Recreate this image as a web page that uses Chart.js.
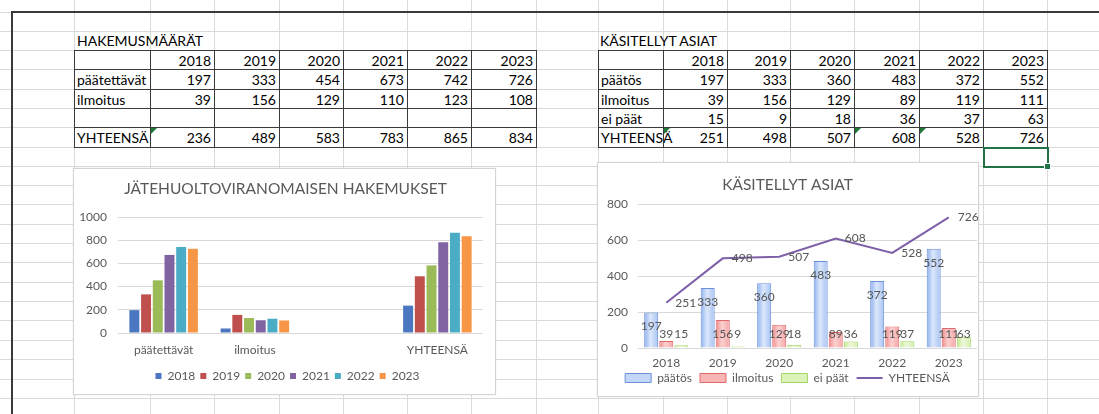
<!DOCTYPE html>
<html>
<head>
<meta charset="utf-8">
<script src="https://cdn.jsdelivr.net/npm/chart.js@4.4.1/dist/chart.umd.min.js"></script>
<style>
html, body { margin: 0; padding: 0; }
body {
    width: 1099px; height: 414px; overflow: hidden; position: relative;
    background: #fff; font-family: Lato, "Open Sans", sans-serif; color: #000;
}
.gl { position: absolute; background: #dadada; }
.frame { position: absolute; background: #3a3a3a; }
.cell {
    position: absolute; box-sizing: border-box; border: 1px solid #3a3a3a;
    font-size: 14px; padding: 1px 3px 0 2px; white-space: nowrap;
}
.num { text-align: right; }
.caption { position: absolute; font-size: 14px; line-height: 16px; }
.tri { position: absolute; width: 0; height: 0; border-top: 6px solid #1f7a3a; border-right: 6px solid transparent; }
.sel { position: absolute; box-sizing: border-box; border: 2px solid #217346; }
.handle { position: absolute; width: 5px; height: 5px; background: #217346; border: 1px solid #fff; }
.card { position: absolute; box-sizing: border-box; background: #fff; border: 1px solid #d4d4d4; box-shadow: 0 0 2px rgba(0, 0, 0, 0.08); }
.card canvas { position: absolute; left: 0; top: 0; }
</style>
</head>
<body>

<div class="card" style="left:73px; top:168px; width:423px; height:227px;">
    <canvas id="appChart" width="421" height="225"></canvas>
</div>
<div class="card" style="left:597px; top:162px; width:382px; height:235px;">
    <canvas id="caseChart" width="380" height="233"></canvas>
</div>

<script>
// ===============================
// DATA
// ===============================

const years = ["2018", "2019", "2020", "2021", "2022", "2023"];

// HAKEMUSMÄÄRÄT
const appTitle = "HAKEMUSMÄÄRÄT";
const appLabels = ["päätettävät", "ilmoitus", "", "YHTEENSÄ"];
const appDecided = [197, 333, 454, 673, 742, 726];
const appNotice = [39, 156, 129, 110, 123, 108];
const appTotal = [236, 489, 583, 783, 865, 834];
const appTicks = [0, 200, 400, 600, 800, 1000];

// KÄSITELLYT ASIAT
const caseTitle = "KÄSITELLYT ASIAT";
const caseLabels = ["päätös", "ilmoitus", "ei päät", "YHTEENSÄ"];
const caseDecision = [197, 333, 360, 483, 372, 552];
const caseNotice = [39, 156, 129, 89, 119, 111];
const caseNoDecision = [15, 9, 18, 36, 37, 63];
const caseTotal = [251, 498, 507, 608, 528, 726];
const caseTicks = [0, 200, 400, 600, 800];

const yearColors = ["#4a77c0", "#c0504d", "#9bbb59", "#8064a2", "#4bacc6", "#f79646"];
const FONT = "Lato, 'Open Sans', sans-serif";
const GRAY = "#595959";


// ===============================
// SHEET: GRID, TABLES
// ===============================

const sheetCols = [74, 150, 214, 279, 343, 407, 471, 536, 598, 663, 727, 790, 854, 919, 983, 1047];
const sheetRows = [12, 31, 50, 69, 89, 108, 127, 147, 166, 185, 204, 224, 243, 262, 282, 301, 320, 340, 359, 379, 398];
const tableRows = [50, 69, 89, 108, 127, 147];

// everything here goes under the chart cards
const layers = [];

function box(cls, style, text) {
    const d = document.createElement("div");
    d.className = cls;
    Object.keys(style).forEach(function (k) {
        d.style[k] = typeof style[k] === "number" ? style[k] + "px" : style[k];
    });
    if (text !== undefined) {
        d.textContent = text;
    }
    layers.push(d);
    return d;
}

function drawTable(cols, rows, cells) {
    cells.forEach(function (row, j) {
        row.forEach(function (txt, i) {
            box(i > 0 ? "cell num" : "cell", {
                left: cols[i],
                top: rows[j],
                width: cols[i + 1] - cols[i] + 1,
                height: rows[j + 1] - rows[j] + 1,
                lineHeight: rows[j + 1] - rows[j] - 2
            }, txt);
        });
    });
}

// grid lines
sheetCols.forEach(function (x) {
    box("gl", { left: x, top: 0, width: 1, height: 414 });
});
sheetRows.forEach(function (y) {
    box("gl", { left: 0, top: y, width: 1099, height: 1 });
});

// frame
box("frame", { left: 11, top: 11, width: 1088, height: 2 });
box("frame", { left: 11, top: 11, width: 2, height: 403 });

drawTable(
    [74, 150, 214, 279, 343, 407, 471, 536],
    tableRows,
    [
        [""].concat(years),
        [appLabels[0]].concat(appDecided.map(String)),
        [appLabels[1]].concat(appNotice.map(String)),
        [""].concat(years.map(function () { return ""; })),
        [appLabels[3]].concat(appTotal.map(String))
    ]
);

drawTable(
    [598, 663, 727, 790, 854, 919, 983, 1047],
    tableRows,
    [
        [""].concat(years),
        [caseLabels[0]].concat(caseDecision.map(String)),
        [caseLabels[1]].concat(caseNotice.map(String)),
        [caseLabels[2]].concat(caseNoDecision.map(String)),
        [caseLabels[3]].concat(caseTotal.map(String))
    ]
);

box("caption", { left: 77, top: 33 }, appTitle);
box("caption", { left: 600, top: 33 }, caseTitle);

// error markers (green corners)
[[151, 128], [664, 128], [855, 128], [920, 128]].forEach(function (p) {
    box("tri", { left: p[0], top: p[1] });
});

// selected cell
box("sel", { left: 983, top: 147, width: 66, height: 21 });
box("handle", { left: 1044, top: 163 });

const firstCard = document.querySelector(".card");
layers.forEach(function (el) {
    document.body.insertBefore(el, firstCard);
});


// ===============================
// SHARED PLUGINS
// ===============================

Chart.defaults.font.family = FONT;
Chart.defaults.color = GRAY;

// moves title / legend after layout (Excel puts them a bit off the chart centre)
const nudge = {
    id: "nudge",
    afterLayout: function (chart, args, opts) {
        const lg = chart.legend;
        const tb = chart.titleBlock;
        if (lg && opts.legendDx) {
            lg.left += opts.legendDx;
            lg.right += opts.legendDx;
        }
        if (lg && opts.legendDy) {
            lg.top += opts.legendDy;
            lg.bottom += opts.legendDy;
        }
        if (tb && opts.titleDx) {
            tb.left += opts.titleDx;
            tb.right += opts.titleDx;
        }
    }
};

function plainTick(value) {
    return String(value);
}


// ===============================
// CHART 1: JÄTEHUOLTOVIRANOMAISEN HAKEMUKSET
// ===============================

new Chart(document.getElementById("appChart"), {
    type: "bar",
    data: {
        labels: appLabels,
        datasets: years.map(function (y, i) {
            return {
                label: y,
                data: [appDecided[i], appNotice[i], null, appTotal[i]],
                backgroundColor: yearColors[i],
                categoryPercentage: 0.77,
                barPercentage: 0.85
            };
        })
    },
    options: {
        responsive: false,
        animation: false,
        layout: {
            padding: { left: 0, right: 12, top: 0, bottom: 2 }
        },
        plugins: {
            nudge: { legendDx: 9, titleDx: 7 },
            title: {
                display: true,
                text: "JÄTEHUOLTOVIRANOMAISEN HAKEMUKSET",
                color: GRAY,
                font: { size: 15.5, weight: "normal" },
                padding: { top: 10.7, bottom: 18.7 }
            },
            legend: {
                position: "bottom",
                labels: {
                    boxWidth: 6,
                    boxHeight: 6,
                    padding: 5,
                    color: GRAY,
                    font: { size: 12 }
                }
            },
            tooltip: { enabled: false }
        },
        scales: {
            x: {
                grid: { display: false, drawTicks: false },
                border: { display: false },
                ticks: { padding: 10, font: { size: 12 }, color: GRAY },
                afterFit: function (s) { s.height = 32; }
            },
            y: {
                min: appTicks[0],
                max: appTicks[appTicks.length - 1],
                afterBuildTicks: function (s) {
                    s.ticks = appTicks.map(function (v) { return { value: v }; });
                },
                ticks: { padding: 11, font: { size: 12 }, color: GRAY, callback: plainTick },
                grid: { color: "#d9d9d9", drawTicks: false },
                border: { display: false },
                afterFit: function (s) { s.width = 44; }
            }
        }
    },
    plugins: [nudge]
});


// ===============================
// CHART 2: KÄSITELLYT ASIAT
// ===============================

const caseCatPct = 0.8;
const caseBarPct = 0.93;

// light gradient across each bar, like the Excel style
function barFill(stops) {
    return function (c) {
        const chart = c.chart;
        const xs = chart.scales.x;
        if (c.type !== "data" || !xs || !chart.chartArea) {
            return stops[1];
        }
        const catW = xs.width / chart.data.labels.length;
        const groupW = catW * caseCatPct;
        const slot = groupW / 3;
        const barW = slot * caseBarPct;
        const cx = xs.getPixelForValue(c.dataIndex) - groupW / 2 + slot * (c.datasetIndex + 0.5);
        const g = chart.ctx.createLinearGradient(cx - barW / 2, 0, cx + barW / 2, 0);
        g.addColorStop(0, stops[0]);
        g.addColorStop(0.45, stops[1]);
        g.addColorStop(1, stops[2]);
        return g;
    };
}

const dataLabels = {
    id: "dataLabels",
    afterDatasetsDraw: function (chart) {
        const ctx = chart.ctx;
        ctx.save();
        ctx.font = "12px " + FONT;
        ctx.fillStyle = "#555555";
        ctx.textBaseline = "middle";
        chart.data.datasets.forEach(function (ds, di) {
            const meta = chart.getDatasetMeta(di);
            meta.data.forEach(function (el, i) {
                const v = String(ds.data[i]);
                if (ds.labelAt === "right") {
                    ctx.textAlign = "left";
                    ctx.fillText(v, el.x + 9, el.y);
                } else if (ds.labelAt === "end") {
                    ctx.textAlign = "center";
                    ctx.fillText(v, el.x, el.y + 14);
                } else {
                    ctx.textAlign = "center";
                    ctx.fillText(v, el.x, el.base - 13);
                }
            });
        });
        ctx.restore();
    }
};

new Chart(document.getElementById("caseChart"), {
    type: "bar",
    data: {
        labels: years,
        datasets: [
            {
                label: caseLabels[0],
                data: caseDecision,
                backgroundColor: barFill(["#8eb0ec", "#dbe7fb", "#a9c3f2"]),
                legendFill: "#c4d7f7",
                borderColor: "#6a8fdb",
                borderWidth: 1,
                pointStyle: "rect",
                labelAt: "end",
                order: 1,
                categoryPercentage: caseCatPct,
                barPercentage: caseBarPct
            },
            {
                label: caseLabels[1],
                data: caseNotice,
                backgroundColor: barFill(["#f08c8c", "#fbd0d0", "#f4a6a6"]),
                legendFill: "#f7b5b5",
                borderColor: "#e06a6a",
                borderWidth: 1,
                pointStyle: "rect",
                labelAt: "base",
                order: 1,
                categoryPercentage: caseCatPct,
                barPercentage: caseBarPct
            },
            {
                label: caseLabels[2],
                data: caseNoDecision,
                backgroundColor: barFill(["#c3e88e", "#eef9dc", "#d2efa8"]),
                legendFill: "#dcf3ba",
                borderColor: "#a3d466",
                borderWidth: 1,
                pointStyle: "rect",
                labelAt: "base",
                order: 1,
                categoryPercentage: caseCatPct,
                barPercentage: caseBarPct
            },
            {
                type: "line",
                label: caseLabels[3],
                data: caseTotal,
                borderColor: "#7e60a8",
                backgroundColor: "#7e60a8",
                borderWidth: 2,
                pointRadius: 0,
                tension: 0,
                pointStyle: "line",
                labelAt: "right",
                order: 0
            }
        ]
    },
    options: {
        responsive: false,
        animation: false,
        layout: {
            padding: { left: 0, right: 1, top: 0, bottom: 2 }
        },
        plugins: {
            nudge: { legendDy: -6 },
            title: {
                display: true,
                text: caseTitle,
                color: GRAY,
                font: { size: 15.5, weight: "normal" },
                padding: { top: 12.7, bottom: 9.7 }
            },
            legend: {
                position: "bottom",
                maxHeight: 24,
                labels: {
                    usePointStyle: true,
                    pointStyleWidth: 26,
                    boxHeight: 9,
                    padding: 8,
                    color: GRAY,
                    font: { size: 12 },
                    generateLabels: function (chart) {
                        const items = Chart.defaults.plugins.legend.labels.generateLabels(chart);
                        items.forEach(function (it) {
                            const ds = chart.data.datasets[it.datasetIndex];
                            if (ds.legendFill) {
                                it.fillStyle = ds.legendFill;
                            }
                        });
                        return items.sort(function (a, b) { return a.datasetIndex - b.datasetIndex; });
                    }
                }
            },
            tooltip: { enabled: false }
        },
        scales: {
            x: {
                grid: { display: false, drawTicks: false },
                border: { display: false },
                ticks: { padding: 8, font: { size: 12 }, color: GRAY },
                afterFit: function (s) { s.height = 22; }
            },
            y: {
                min: caseTicks[0],
                max: caseTicks[caseTicks.length - 1],
                afterBuildTicks: function (s) {
                    s.ticks = caseTicks.map(function (v) { return { value: v }; });
                },
                ticks: { padding: 10, font: { size: 12 }, color: GRAY, callback: plainTick },
                grid: { color: "#d9d9d9", drawTicks: false },
                border: { display: false },
                afterFit: function (s) { s.width = 40; }
            }
        }
    },
    plugins: [dataLabels, nudge]
});
</script>
</body>
</html>
